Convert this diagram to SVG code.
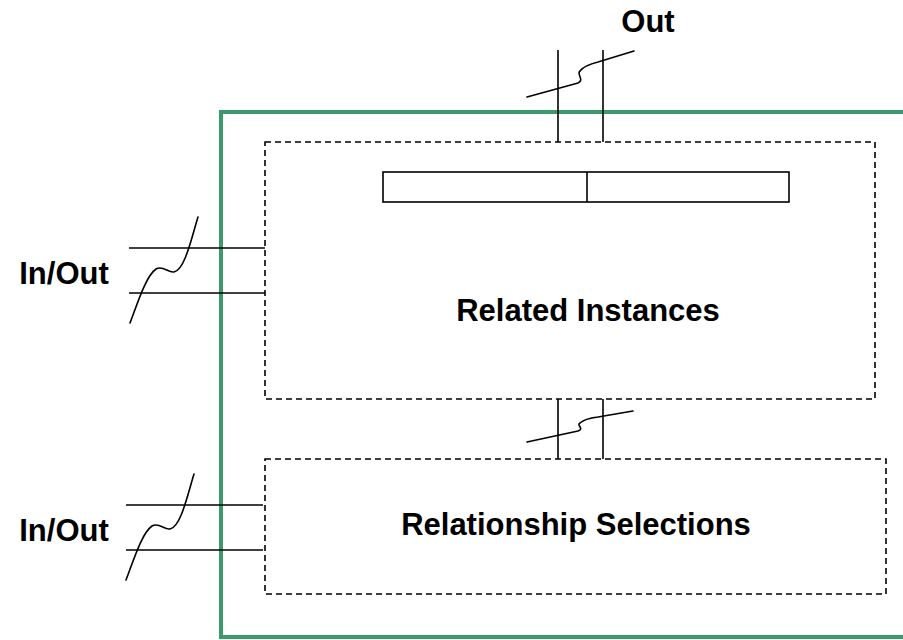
<svg xmlns="http://www.w3.org/2000/svg" width="903" height="640" viewBox="0 0 903 640">
  <style>
    .frame { fill: none; stroke: #3a9a6a; stroke-width: 4; }
    .box { fill: #fff; stroke: #000; stroke-width: 1.6; stroke-dasharray: 6 4; }
    .line { fill: none; stroke: #000; stroke-width: 1.6; }
    .wave { fill: none; stroke: #000; stroke-width: 1.6; stroke-linecap: round; }
    .label { font-family: "Liberation Sans", Arial, sans-serif; font-weight: bold; font-size: 31px; fill: #000; }
  </style>
  <rect width="903" height="640" fill="#fff"/>

  <!-- outer boundary -->
  <path class="frame" d="M905,112 H221 V637 H905"/>

  <g id="related-instances">
    <rect class="box" x="265" y="142" width="610" height="257"/>
    <rect class="line" x="383" y="172" width="406" height="30"/>
    <line class="line" x1="587" y1="172" x2="587" y2="202"/>
    <text class="label" x="588" y="321" text-anchor="middle">Related Instances</text>
  </g>

  <g id="relationship-selections">
    <rect class="box" x="265" y="459" width="621" height="135"/>
    <text class="label" x="576" y="535" text-anchor="middle">Relationship Selections</text>
  </g>

  <g id="label-out"><text class="label" x="648" y="32" text-anchor="middle">Out</text></g>
  <g id="label-inout-1"><text class="label" x="64" y="284" text-anchor="middle">In/Out</text></g>
  <g id="label-inout-2"><text class="label" x="64" y="541" text-anchor="middle">In/Out</text></g>

  <g id="connectors">
    <!-- top output pair -->
    <line class="line" x1="558" y1="50" x2="558" y2="142"/>
    <line class="line" x1="603" y1="50" x2="603" y2="142"/>
    <path class="wave" d="M527,97 L578,83 C585,80 576,74 580,71 C583,67 590,64 598,62 L634,51"/>

    <!-- link between the two boxes -->
    <line class="line" x1="558" y1="399" x2="558" y2="459"/>
    <line class="line" x1="603" y1="399" x2="603" y2="459"/>
    <path class="wave" d="M527,442 L578,431 C585,429 576,425 580,423 C583,420 590,418 598,417 L633,411"/>

    <!-- left pair, upper box -->
    <line class="line" x1="129" y1="248" x2="265" y2="248"/>
    <line class="line" x1="129" y1="293" x2="265" y2="293"/>
    <path class="wave" d="M130,323 C138,302 146,276 156,269 C163,265 168,273 174,272 C185,270 192,236 198,217"/>

    <!-- left pair, lower box -->
    <line class="line" x1="126" y1="505" x2="263" y2="505"/>
    <line class="line" x1="126" y1="550" x2="263" y2="550"/>
    <path class="wave" d="M126,580 C134,559 142,533 152,526 C159,522 164,530 170,529 C181,527 188,493 194,474"/>
  </g>
</svg>
